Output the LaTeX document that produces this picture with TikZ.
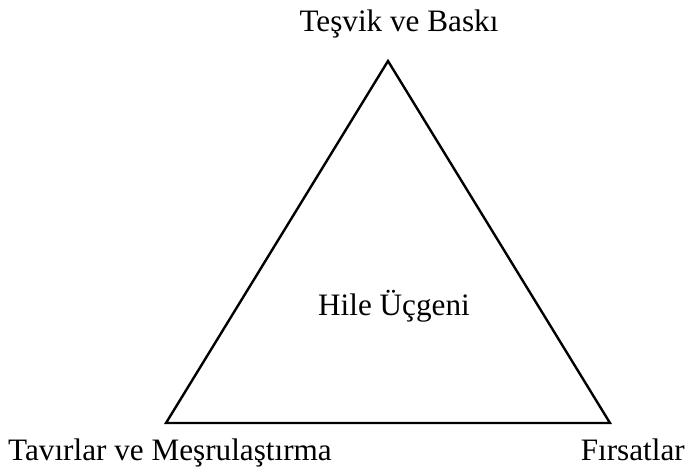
\documentclass[tikz,border=0pt]{standalone}
\usepackage{fontspec}
\setmainfont{Liberation Serif}
\usetikzlibrary{positioning}

\begin{document}
\begin{tikzpicture}[x=1pt,y=-1pt,lbl/.style={font=\fontsize{31.2}{34}\selectfont,inner sep=0pt},edge/.style={line width=2.4pt,line join=miter}]
\useasboundingbox (0,0) rectangle (686,468);
\coordinate (top) at (388,61);
\coordinate (left) at (166,423);
\coordinate (right) at (610,423);
\draw[edge] (top)--(right)--(left)--cycle;
\node[lbl,anchor=base](tesvik) at (399,32){Teşvik ve Baskı};
\node[lbl,anchor=base west](tavir) at (8,460){Tavırlar ve Meşrulaştırma};
\node[lbl,anchor=base east](firsat) at (685,460){Fırsatlar};
\node[lbl,anchor=base](hile) at (394,315){Hile Üçgeni};
\end{tikzpicture}
\end{document}
